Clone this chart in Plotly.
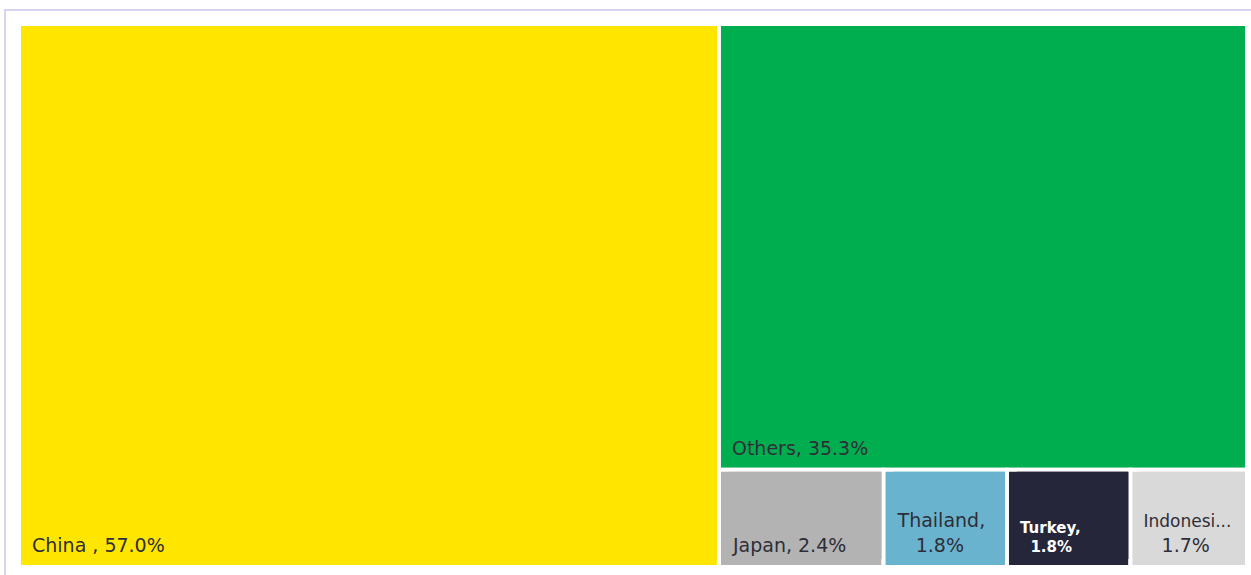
import plotly.graph_objects as go

# Market share by country (%)
countries = ["China", "Others", "Japan", "Thailand", "Turkey", "Indonesia"]
shares = [57.0, 35.3, 2.4, 1.8, 1.8, 1.7]
NB = "\u00a0"
tile_text = [
    "China , 57.0%",
    "Others, 35.3%",
    "Japan, 2.4%",
    "Thailand,<br>" + NB * 3 + "1.8%",
    "Turkey,<br>" + NB * 2 + "1.8%",
    "<span style='font-size:17px'>Indonesi...</span><br>" + NB * 3 + "1.7%",
]
colors = ["#FFE600", "#00AE4F", "#B3B3B3", "#6AB3CE", "#26263A", "#D9D9D9"]
text_colors = ["#2E2E38", "#2E2E38", "#2E2E38", "#2E2E38", "#FFFFFF", "#2E2E38"]
text_sizes = [19, 19, 19, 19, 15, 19]
text_weights = ["normal", "normal", "normal", "normal", "bold", "normal"]

# Each country tile holds one label cell, inset by the parent padding,
# so the labels sit off the tile edges.
root = "All"
label_ids = [c + "_label" for c in countries]
n = len(countries)

ids = [root] + countries + label_ids
labels = [root] + countries + countries
parents = [""] + [root] * n + countries
values = [sum(shares)] + shares + shares
texts = [""] + [""] * n + tile_text
fills = ["#FFFFFF"] + colors + colors
line_widths = [4] + [4] * n + [0] * n
# parent labels are painted in their own fill colour so they stay hidden
font_colors = ["#FFFFFF"] + colors + text_colors
font_sizes = [19] + text_sizes + text_sizes
font_weights = ["normal"] + text_weights + text_weights

fig = go.Figure(
    go.Treemap(
        ids=ids,
        labels=labels,
        parents=parents,
        values=values,
        branchvalues="total",
        text=texts,
        texttemplate="%{text}",
        textposition="bottom left",
        sort=True,
        tiling=dict(packing="squarify", pad=0),
        marker=dict(
            colors=fills,
            line=dict(color="#FFFFFF", width=line_widths),
            pad=dict(t=2, l=10, r=2, b=8),
        ),
        textfont=dict(family="DejaVu Sans", color=font_colors,
                      size=font_sizes, weight=font_weights),
        pathbar=dict(visible=False),
        hoverinfo="label+value",
    )
)

fig.update_layout(
    width=1251,
    height=575,
    margin=dict(l=9, r=2, t=22, b=0),
    paper_bgcolor="#FFFFFF",
    shapes=[
        dict(type="line", xref="paper", yref="paper", x0=-0.004, x1=1.01,
             y0=1.0217, y1=1.0217, line=dict(color="#D6D4F0", width=2)),
        dict(type="line", xref="paper", yref="paper", x0=-0.0032, x1=-0.0032,
             y0=-0.02, y1=1.0217, line=dict(color="#D6D4F0", width=2)),
    ],
)

fig.write_html("out.html")
